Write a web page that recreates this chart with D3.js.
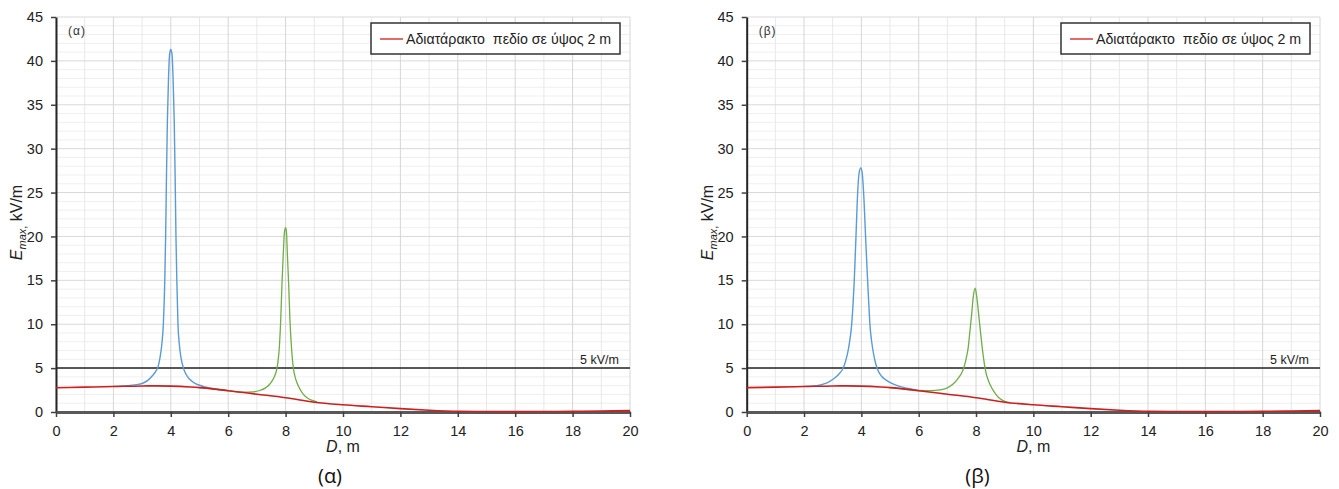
<!DOCTYPE html>
<html>
<head>
<meta charset="utf-8">
<script src="https://cdn.jsdelivr.net/npm/d3@7"></script>
<style>
  body { margin: 0; background: #fff; }
  svg { display: block; font-family: "Liberation Sans", Arial, sans-serif; }
</style>
</head>
<body>
<svg id="chart" width="1339" height="489"></svg>
<script>
//data ==========================================================
const xTicks = [0, 2, 4, 6, 8, 10, 12, 14, 16, 18, 20];
const yTicks = [0, 5, 10, 15, 20, 25, 30, 35, 40, 45];
const limitValue = 5;
const limitLabel = '5 kV/m';
const legendLabel = 'Αδιατάρακτο  πεδίο σε ύψος 2 m';
const panelTags = ['(α)', '(β)'];

// undisturbed field at 2 m (same in both panels), [D, E]
const unperturbed = [
  [0, 2.77], [1, 2.83], [2, 2.9], [3, 2.97], [3.5, 2.98], [4, 2.95], [4.67, 2.85],
  [5, 2.78], [6, 2.43], [7, 2.03], [8, 1.63], [9, 1.12], [10, 0.82], [11, 0.6],
  [12, 0.38], [13, 0.2], [14, 0.08], [15, 0.05], [16, 0.04], [17, 0.05], [18, 0.07],
  [19, 0.11], [20, 0.16]
];

// (α) object at 4 m and 8 m
const peak4A = [
  [2, 2.92], [2.5, 3.0], [2.8, 3.12], [3, 3.25], [3.2, 3.6], [3.35, 4.1], [3.47, 4.6],
  [3.56, 5.2], [3.63, 6.3], [3.69, 7.8], [3.74, 10], [3.79, 15], [3.82, 20], [3.85, 27],
  [3.88, 33], [3.92, 38], [3.96, 40.8], [4.0, 41.3], [4.04, 40.8], [4.08, 38], [4.12, 33],
  [4.15, 27], [4.18, 20], [4.21, 15], [4.25, 10], [4.3, 7.6], [4.36, 6.1], [4.44, 5.0],
  [4.53, 4.3], [4.65, 3.75], [4.8, 3.35], [5, 3.05], [5.2, 2.86], [5.4, 2.7], [6, 2.43]
];
const peak8A = [
  [5, 2.78], [6, 2.43], [6.5, 2.25], [6.88, 2.3], [7.1, 2.45], [7.3, 2.75], [7.43, 3.1],
  [7.53, 3.55], [7.62, 4.1], [7.68, 4.7], [7.73, 5.6], [7.78, 7.3], [7.83, 10.5],
  [7.87, 14.3], [7.92, 18.1], [7.96, 20.5], [8.0, 21.0], [8.03, 20.5], [8.06, 18.1],
  [8.11, 14.3], [8.15, 10.6], [8.2, 7.6], [8.24, 5.9], [8.28, 4.8], [8.33, 4.0],
  [8.4, 3.3], [8.5, 2.6], [8.62, 2.0], [8.75, 1.62], [8.9, 1.35], [9.1, 1.15]
];

// (β) object at 4 m and 8 m
const peak4B = [
  [2, 2.92], [2.45, 3.0], [2.7, 3.2], [2.9, 3.5], [3.1, 3.95], [3.25, 4.45], [3.35, 4.9],
  [3.45, 5.8], [3.55, 7.2], [3.62, 8.7], [3.66, 9.9], [3.71, 12.3], [3.75, 14.8],
  [3.81, 19.8], [3.87, 24.9], [3.92, 27.2], [3.98, 27.8], [4.03, 27.2], [4.08, 24.9],
  [4.15, 19.8], [4.22, 14.8], [4.26, 12.3], [4.3, 9.9], [4.36, 8.0], [4.45, 6.2],
  [4.56, 4.9], [4.7, 4.1], [4.88, 3.6], [5.1, 3.2], [5.3, 2.95], [5.6, 2.7], [6, 2.43]
];
const peak8B = [
  [5, 2.78], [5.5, 2.6], [6, 2.45], [6.39, 2.43], [6.8, 2.55], [7.0, 2.75], [7.23, 3.27],
  [7.4, 3.95], [7.5, 4.45], [7.58, 5.1], [7.65, 6.0], [7.73, 7.4], [7.79, 9.3],
  [7.85, 11.2], [7.9, 13], [7.97, 14.1], [8.03, 13], [8.09, 11.2], [8.15, 9.3],
  [8.21, 7.5], [8.26, 6.2], [8.31, 5.1], [8.36, 4.3], [8.43, 3.6], [8.51, 3.0],
  [8.61, 2.4], [8.72, 1.9], [8.84, 1.5], [9.0, 1.2], [9.2, 1.07]
];

//layout ========================================================
const plotTop = 17, plotBottom = 412;
const panels = [
  { left: 56, right: 630, tag: panelTags[0], near: peak4A, far: peak8A, capX: 330 },
  { left: 746.7, right: 1320, tag: panelTags[1], near: peak4B, far: peak8B, capX: 977.5 }
];

let svg = d3.select('#chart');

panels.forEach(p => {
  let x = d3.scaleLinear().domain([0, 20]).range([p.left, p.right]);
  let y = d3.scaleLinear().domain([0, 45]).range([plotBottom, plotTop]);
  let g = svg.append('g');

  // grid, minor first then major
  let minorX = d3.range(1, 21, 2), majorX = d3.range(0, 21, 2);
  let minorY = d3.range(1, 46).filter(v => v % 5 !== 0);
  g.append('g').selectAll('line').data(minorY).join('line')
    .attr('x1', p.left).attr('x2', p.right)
    .attr('y1', d => y(d)).attr('y2', d => y(d))
    .attr('stroke', '#efefef').attr('stroke-width', 1);
  g.append('g').selectAll('line').data(minorX).join('line')
    .attr('x1', d => x(d)).attr('x2', d => x(d))
    .attr('y1', plotTop).attr('y2', plotBottom)
    .attr('stroke', '#e8e8e8').attr('stroke-width', 1);
  g.append('g').selectAll('line').data(yTicks).join('line')
    .attr('x1', p.left).attr('x2', p.right)
    .attr('y1', d => y(d)).attr('y2', d => y(d))
    .attr('stroke', '#d9d9d9').attr('stroke-width', 1);
  g.append('g').selectAll('line').data(majorX).join('line')
    .attr('x1', d => x(d)).attr('x2', d => x(d))
    .attr('y1', plotTop).attr('y2', plotBottom)
    .attr('stroke', '#d6d6d6').attr('stroke-width', 1);

  // axes (series go on top of them, like the original)
  let yAxis = g.append('g').attr('transform', `translate(${p.left},0)`)
    .call(d3.axisLeft(y).tickValues(yTicks).tickSize(5).tickPadding(8).tickSizeOuter(0));
  let xAxis = g.append('g').attr('transform', `translate(0,${plotBottom})`)
    .call(d3.axisBottom(x).tickValues(xTicks).tickSize(5).tickPadding(9).tickSizeOuter(0));
  yAxis.select('.domain').attr('stroke', '#262626').attr('stroke-width', 2);
  xAxis.select('.domain').attr('stroke', '#595959').attr('stroke-width', 3);
  [xAxis, yAxis].forEach(a => {
    a.selectAll('.tick line').attr('stroke', '#404040').attr('stroke-width', 1.5);
    a.selectAll('.tick text').attr('font-size', 14.5).attr('fill', '#222')
      .attr('font-family', '"Liberation Sans", Arial, sans-serif');
  });

  // 5 kV/m limit
  g.append('line')
    .attr('x1', p.left).attr('x2', p.right)
    .attr('y1', y(limitValue)).attr('y2', y(limitValue))
    .attr('stroke', '#262626').attr('stroke-width', 1.5);
  g.append('text')
    .attr('x', p.right - 11).attr('y', y(limitValue) - 4)
    .attr('text-anchor', 'end').attr('font-size', 12.5).attr('fill', '#222')
    .text(limitLabel);

  let line = d3.line().x(d => x(d[0])).y(d => y(d[1])).curve(d3.curveMonotoneX);
  g.append('path').datum(p.near).attr('d', line)
    .attr('fill', 'none').attr('stroke', '#5b9bd5').attr('stroke-width', 1.4);
  g.append('path').datum(p.far).attr('d', line)
    .attr('fill', 'none').attr('stroke', '#70ad47').attr('stroke-width', 1.3);
  g.append('path').datum(unperturbed).attr('d', line)
    .attr('fill', 'none').attr('stroke', '#cc1f1f').attr('stroke-width', 1.6);

  // axis titles
  let yt = g.append('text')
    .attr('transform', `translate(${p.left - 34},${(plotTop + plotBottom) / 2 + 8}) rotate(-90)`)
    .attr('text-anchor', 'middle').attr('font-size', 16).attr('fill', '#222');
  yt.append('tspan').attr('font-style', 'italic').text('E');
  yt.append('tspan').attr('font-style', 'italic').attr('font-size', 11).attr('dy', 4).text('max');
  yt.append('tspan').attr('font-size', 11).text(',');
  yt.append('tspan').attr('dy', -4).text(' kV/m');

  let xt = g.append('text')
    .attr('x', (p.left + p.right) / 2).attr('y', plotBottom + 40)
    .attr('text-anchor', 'middle').attr('font-size', 16).attr('fill', '#222');
  xt.append('tspan').attr('font-style', 'italic').text('D');
  xt.append('tspan').text(', m');

  // small panel tag inside the plot
  g.append('text')
    .attr('x', p.left + 12).attr('y', plotTop + 18)
    .attr('font-size', 12).attr('letter-spacing', 1).attr('fill', '#333').text(p.tag);

  // legend
  let lx = p.right - 259, ly = 23;
  g.append('rect').attr('x', lx).attr('y', ly).attr('width', 249).attr('height', 31)
    .attr('fill', '#fff').attr('stroke', '#333').attr('stroke-width', 1.5);
  g.append('line').attr('x1', lx + 9).attr('x2', lx + 32)
    .attr('y1', ly + 16).attr('y2', ly + 16)
    .attr('stroke', '#d43a3a').attr('stroke-width', 1.5);
  g.append('text').attr('x', lx + 35).attr('y', ly + 21)
    .attr('font-size', 14.2).attr('fill', '#222')
    .style('white-space', 'pre').text(legendLabel);

  // caption under the chart
  g.append('text')
    .attr('x', p.capX).attr('y', 483)
    .attr('text-anchor', 'middle').attr('font-size', 20)
    .attr('font-family', '"Open Sans", "Noto Sans", sans-serif').attr('fill', '#111')
    .text(p.tag);
});
</script>
</body>
</html>
